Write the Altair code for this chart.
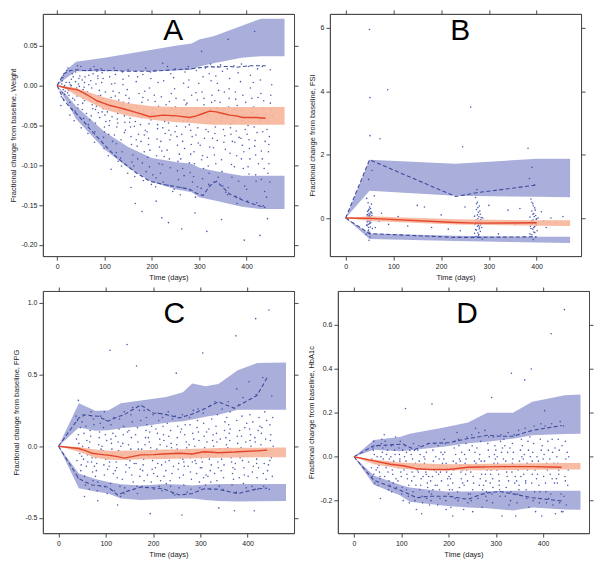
import altair as alt
import pandas as pd

FONT = "Liberation Sans"
BLUE_BAND = "#aaaedb"
RED_BAND = "#f7b49a"
RED_LINE = "#e4452a"
DASH = "#3c4b9b"
DOT = "#3a4aa6"
FRAME = "#4a4a4a"

X_TICKS = [0, 100, 200, 300, 400]

# typed deviations (days) of actual observation time from the nominal visit day
OBS_SPREAD = [-3, 2, -1, 4, 0, -4, 3, -2, 1, -5, 5, -6, 6, -1, 2, -3]

# ---------------- Panel A : Weight ----------------
A_band_day = [0, 20, 40, 100, 150, 200, 250, 284, 300, 330, 390, 430, 480]
A_up_lo = [0, 0.010, 0.018, 0.018, 0.018, 0.018, 0.019, 0.020, 0.024, 0.028, 0.035, 0.037, 0.037]
A_up_hi = [0, 0.020, 0.030, 0.035, 0.040, 0.045, 0.050, 0.053, 0.058, 0.062, 0.075, 0.084, 0.084]
A_lo_hi = [0, -0.012, -0.026, -0.058, -0.077, -0.091, -0.096, -0.098, -0.103, -0.107, -0.113, -0.113, -0.113]
A_lo_lo = [0, -0.020, -0.042, -0.080, -0.103, -0.121, -0.130, -0.134, -0.140, -0.144, -0.152, -0.155, -0.155]
A_md_hi = [0, -0.001, -0.003, -0.015, -0.022, -0.026, -0.027, -0.027, -0.027, -0.027, -0.027, -0.027, -0.027]
A_md_lo = [0, -0.005, -0.012, -0.030, -0.038, -0.043, -0.046, -0.047, -0.048, -0.049, -0.049, -0.049, -0.049]

A_line_day = [0, 14, 28, 42, 56, 70, 84, 98, 112, 126, 140, 168, 196, 224, 252, 280, 294,
              308, 322, 336, 350, 364, 378, 392, 406, 420, 440]
A_p95 = [0, 0.015, 0.019, 0.020, 0.019, 0.019, 0.020, 0.019, 0.019, 0.019, 0.018, 0.018, 0.018,
         0.019, 0.020, 0.021, 0.022, 0.023, 0.024, 0.023, 0.024, 0.024, 0.023, 0.024, 0.025, 0.025, 0.025]
A_p05 = [0, -0.018, -0.028, -0.036, -0.045, -0.055, -0.064, -0.073, -0.082, -0.090, -0.097, -0.110,
         -0.120, -0.124, -0.127, -0.130, -0.135, -0.138, -0.126, -0.120, -0.128, -0.136, -0.140,
         -0.144, -0.147, -0.150, -0.153]
A_med = [0, -0.002, -0.004, -0.005, -0.009, -0.014, -0.019, -0.022, -0.025, -0.027, -0.029, -0.034,
         -0.039, -0.037, -0.038, -0.040, -0.038, -0.035, -0.032, -0.033, -0.035, -0.037, -0.038,
         -0.040, -0.040, -0.040, -0.041]

A_visit = [14, 28, 42, 56, 70, 84, 98, 112, 126, 140, 154, 168, 182, 196, 210, 224, 238, 252,
           266, 280, 294, 308, 322, 336, 350, 364, 378, 392, 406, 420, 434, 448]
A_obs = [
    [0.006, -0.011, 0.013, -0.003, -0.018, 0.002, -0.007, 0.010, -0.001, -0.014, 0.004, -0.025, 0.019, -0.005, 0.000, -0.009],
    [-0.012, 0.008, -0.021, 0.015, 0.001, -0.006, -0.029, 0.004, -0.002, 0.022, -0.016, -0.009, 0.011, -0.037, 0.000, -0.004],
    [0.017, -0.024, -0.003, 0.009, -0.013, -0.032, 0.002, -0.008, 0.025, -0.018, -0.001, -0.044, 0.012, -0.006, -0.028, 0.005],
    [-0.030, 0.004, -0.016, 0.019, -0.041, -0.008, 0.011, -0.022, -0.002, -0.053, -0.012, 0.024, -0.035, -0.005, -0.019, 0.007],
    [0.013, -0.038, -0.011, -0.024, 0.021, -0.049, -0.003, -0.017, 0.006, -0.060, -0.029, -0.008, 0.015, -0.043, -0.020, 0.001],
    [-0.047, 0.009, -0.026, -0.013, 0.018, -0.058, -0.034, 0.002, -0.019, -0.071, -0.006, 0.024, -0.040, -0.022, 0.012, -0.030],
    [0.016, -0.052, -0.029, -0.008, -0.065, 0.004, -0.037, -0.017, -0.079, 0.021, -0.045, -0.012, -0.025, 0.009, -0.058, -0.033],
    [-0.061, -0.015, 0.011, -0.039, -0.026, -0.088, 0.002, -0.050, -0.020, 0.019, -0.070, -0.033, -0.007, -0.044, -0.105, -0.029],
    [0.014, -0.035, -0.073, -0.018, -0.052, 0.003, -0.095, -0.026, -0.042, -0.062, -0.009, 0.022, -0.031, -0.084, -0.047, -0.013],
    [-0.083, -0.038, 0.008, -0.056, -0.021, -0.101, -0.046, 0.017, -0.030, -0.068, -0.012, -0.091, -0.035, 0.001, -0.059, -0.025],
    [0.012, -0.064, -0.028, -0.096, -0.041, 0.020, -0.074, -0.016, -0.052, -0.110, -0.034, -0.005, -0.087, -0.046, -0.128, -0.022],
    [-0.045, -0.092, 0.005, -0.061, -0.027, -0.114, -0.038, 0.018, -0.076, -0.051, -0.010, -0.101, -0.033, -0.068, 0.011, -0.148],
    [-0.021, -0.083, 0.014, -0.056, -0.119, -0.040, -0.007, -0.097, -0.031, -0.070, 0.022, -0.049, -0.108, -0.015, -0.062, -0.158],
    [-0.066, 0.009, -0.102, -0.036, -0.081, -0.018, -0.124, -0.048, 0.017, -0.090, -0.029, -0.058, -0.112, -0.003, -0.043, -0.074],
    [0.019, -0.054, -0.116, -0.026, -0.088, -0.041, 0.004, -0.127, -0.067, -0.012, -0.098, -0.034, -0.077, -0.145, -0.049, -0.020],
    [-0.082, -0.031, 0.028, -0.060, -0.121, -0.014, -0.045, -0.099, 0.006, -0.070, -0.038, -0.110, -0.024, -0.053, -0.089, -0.166],
    [-0.047, 0.015, -0.092, -0.029, -0.068, -0.125, -0.010, -0.056, -0.103, 0.024, -0.039, -0.081, -0.133, -0.020, -0.062, -0.172],
    [0.021, -0.075, -0.036, -0.118, -0.051, -0.004, -0.095, -0.027, -0.064, -0.130, -0.042, 0.010, -0.086, -0.016, -0.107, -0.058],
    [-0.061, -0.018, -0.104, 0.017, -0.044, -0.128, -0.079, -0.031, 0.003, -0.092, -0.052, -0.137, -0.024, -0.070, -0.113, -0.180],
    [0.024, -0.056, -0.097, -0.012, -0.131, -0.043, -0.074, 0.007, -0.109, -0.035, -0.064, -0.022, -0.121, -0.049, -0.086, -0.002],
    [-0.041, -0.127, -0.009, -0.072, 0.019, -0.098, -0.053, -0.140, -0.028, -0.083, 0.003, -0.114, -0.036, -0.062, -0.018, -0.160],
    [0.043, -0.024, -0.088, -0.047, 0.011, -0.129, -0.066, -0.008, -0.104, -0.036, 0.022, -0.075, -0.055, -0.117, -0.016, -0.093],
    [-0.058, 0.027, -0.110, -0.021, -0.077, -0.037, 0.006, -0.124, -0.046, -0.090, -0.012, -0.183, -0.066, 0.015, -0.030, -0.101],
    [-0.019, -0.069, 0.012, -0.115, -0.041, -0.087, 0.024, -0.052, -0.028, -0.121, -0.006, -0.078, -0.036, -0.098, 0.003, -0.060],
    [-0.093, -0.030, 0.018, -0.063, -0.126, -0.044, -0.008, -0.108, -0.055, 0.026, -0.080, -0.021, -0.134, -0.039, -0.071, -0.168],
    [0.058, -0.048, -0.016, -0.099, 0.009, -0.137, -0.061, -0.027, -0.085, 0.021, -0.115, -0.040, -0.070, -0.004, -0.053, -0.128],
    [-0.071, -0.025, -0.139, 0.016, -0.057, -0.102, -0.038, -0.008, -0.088, 0.025, -0.120, -0.046, -0.065, -0.017, -0.148, -0.030],
    [0.027, -0.083, -0.044, -0.126, -0.012, -0.066, -0.194, -0.031, -0.104, 0.005, -0.055, -0.141, -0.021, -0.075, -0.037, -0.092],
    [-0.050, 0.013, -0.111, -0.028, -0.079, -0.145, -0.040, 0.024, -0.092, -0.061, -0.016, -0.130, -0.034, -0.068, -0.003, -0.102],
    [0.068, -0.036, -0.087, -0.015, -0.120, -0.052, 0.021, -0.069, -0.147, -0.027, -0.098, 0.004, -0.044, -0.112, -0.059, -0.076],
    [-0.082, -0.029, 0.024, -0.133, -0.058, -0.010, -0.104, -0.043, -0.151, 0.007, -0.070, -0.188, -0.036, -0.092, -0.019, -0.118],
    [-0.046, 0.020, -0.098, -0.031, -0.064, -0.167, -0.012, -0.083, -0.121, -0.055, 0.001, -0.140, -0.038, -0.074, -0.022, -0.110],
]

# ---------------- Panel B : FSI ----------------
B_band_day = [0, 50, 230, 400, 470]
B_up_lo = [0, 0.86, 0.70, 0.67, 0.66]
B_up_hi = [0, 1.84, 1.71, 1.87, 1.87]
B_lo_hi = [0, -0.49, -0.56, -0.59, -0.59]
B_lo_lo = [0, -0.66, -0.72, -0.77, -0.79]
B_md_hi = [0, 0.06, -0.04, -0.07, -0.07]
B_md_lo = [0, -0.09, -0.20, -0.24, -0.25]

B_line_day = [0, 50, 230, 275, 400]
B_p95 = [0, 1.84, 0.68, 0.80, 1.04]
B_p05 = [0, -0.49, -0.61, -0.61, -0.59]
B_med = [0, -0.01, -0.14, -0.16, -0.15]

B_obs_day = [44, 47, 50, 52, 48, 46, 53, 49, 51, 45, 55, 50, 47, 52, 48, 54, 46, 50, 49, 53,
             51, 47, 45, 52, 56, 48, 50, 43, 51, 49,
             49, 52, 46, 50, 54, 48, 51, 45, 53, 47, 50, 55, 44, 52, 49,
             272, 276, 280, 274, 278, 282, 270, 284, 277, 273, 279, 281, 275, 283, 271, 278,
             276, 285, 280, 274, 282, 277, 279, 273, 286, 275,
             275, 281, 272, 279, 284, 277, 270, 283, 276, 280, 273, 287, 278, 274, 282,
             388, 392, 396, 390, 394, 398, 386, 400, 393, 389, 395, 397, 391, 399, 387, 394,
             392, 401, 396, 390, 398, 393, 395,
             391, 397, 388, 395, 400, 393, 386, 399, 392, 396, 389, 403, 394, 390, 398,
             50, 51, 88, 51, 72, 262, 245, 382, 390, 385, 48, 55, 70, 75, 90, 110, 130, 150,
             165, 180, 200, 215, 240, 250, 300, 320, 340, 355, 365, 420, 430, 440, 455, 60,
             62, 410, 415]
B_obs_val = [0.62, 0.48, 0.35, 0.30, 0.25, 0.21, 0.18, 0.15, 0.12, 0.10, 0.08, 0.06, 0.04, 0.02,
             0.00, -0.02, -0.05, -0.08, -0.10, -0.13, -0.16, -0.20, -0.24, -0.28, -0.33, -0.38,
             -0.45, -0.52, -0.60, -0.70,
             0.28, -0.04, 0.11, -0.18, 0.44, -0.30, 0.05, -0.12, 0.20, -0.41, 0.00, 0.15, -0.22,
             -0.07, 0.09,
             0.65, 0.50, 0.38, 0.27, 0.18, 0.12, 0.06, 0.02, -0.02, -0.06, -0.09, -0.12, -0.15,
             -0.17, -0.20, -0.23, -0.26, -0.30, -0.34, -0.38, -0.42, -0.47, -0.52, -0.58, -0.66,
             0.90,
             -0.10, 0.22, -0.36, 0.04, -0.19, 0.33, -0.48, -0.05, 0.10, -0.28, -0.14, 0.00, -0.56,
             0.45, -0.22,
             0.60, 0.45, 0.32, 0.22, 0.14, 0.08, 0.03, -0.02, -0.06, -0.10, -0.13, -0.16, -0.19,
             -0.22, -0.26, -0.30, -0.35, -0.40, -0.46, -0.53, -0.60, -0.68, 1.05,
             -0.08, 0.25, -0.33, 0.05, -0.20, 0.38, -0.50, -0.04, 0.12, -0.27, -0.14, 0.00, -0.44,
             0.50, -0.18,
             5.95, 3.80, 4.05, 2.60, 2.50, 3.50, 2.25, 2.20, 1.60, 1.25, 1.22, 1.50, -0.10, 0.15,
             -0.20, 0.05, -0.25, 0.40, 0.35, -0.30, 0.10, -0.35, -0.40, 0.35, 0.40, -0.50, 0.25,
             -0.20, 0.30, -0.30, 0.00, -0.15, 0.05, 0.70, -0.30, 0.20, -0.10]

# ---------------- Panel C : FPG ----------------
C_band_day = [0, 43, 78, 105, 132, 174, 228, 263, 283, 311, 338, 379, 420, 481]
C_up_lo = [0, 0.13, 0.108, 0.112, 0.125, 0.137, 0.164, 0.175, 0.186, 0.205, 0.22, 0.254, 0.254, 0.254]
C_up_hi = [0, 0.30, 0.247, 0.250, 0.300, 0.320, 0.344, 0.377, 0.438, 0.418, 0.434, 0.530, 0.580, 0.584]
C_lo_hi = [0, -0.19, -0.229, -0.250, -0.265, -0.274, -0.263, -0.268, -0.274, -0.266, -0.263, -0.263, -0.263, -0.263]
C_lo_lo = [0, -0.292, -0.315, -0.330, -0.364, -0.375, -0.368, -0.365, -0.364, -0.375, -0.382, -0.386, -0.384, -0.382]
C_md_hi = [0, -0.005, -0.022, -0.031, -0.032, -0.027, -0.022, -0.020, -0.018, -0.015, -0.013, -0.011, -0.010, -0.009]
C_md_lo = [0, -0.038, -0.080, -0.094, -0.096, -0.090, -0.088, -0.086, -0.085, -0.082, -0.080, -0.078, -0.077, -0.076]

C_line_day = [0, 43, 57, 71, 84, 98, 105, 125, 139, 174, 200, 222, 256, 283, 304, 311, 338, 372,
              379, 420, 441]
C_p95 = [0, 0.198, 0.220, 0.212, 0.209, 0.185, 0.175, 0.205, 0.220, 0.288, 0.232, 0.225, 0.198,
         0.225, 0.254, 0.265, 0.310, 0.265, 0.280, 0.355, 0.478]
C_p05 = [0, -0.225, -0.250, -0.270, -0.274, -0.282, -0.285, -0.340, -0.320, -0.285, -0.290,
         -0.297, -0.340, -0.330, -0.300, -0.297, -0.300, -0.325, -0.330, -0.297, -0.292]
C_med = [0, -0.016, -0.030, -0.049, -0.055, -0.060, -0.062, -0.072, -0.083, -0.060, -0.058,
         -0.054, -0.049, -0.054, -0.040, -0.038, -0.045, -0.040, -0.038, -0.032, -0.027]

C_visit = [43, 56, 70, 84, 98, 112, 126, 140, 154, 168, 182, 196, 210, 224, 238, 252, 266, 280,
           294, 308, 322, 336, 350, 364, 378, 392, 406, 420, 434, 448]
C_obs = [
    [0.18, -0.05, 0.08, -0.17, 0.02, -0.10, 0.13, -0.22, -0.02, 0.05, -0.13, 0.21, -0.07, 0.32],
    [-0.09, 0.14, -0.21, 0.04, -0.03, 0.22, -0.14, 0.09, -0.27, 0.00, -0.06, 0.17, -0.11, -0.35],
    [0.11, -0.18, -0.04, 0.19, -0.11, 0.03, -0.24, 0.07, -0.08, -0.30, 0.15, -0.01, -0.14, 0.24],
    [-0.12, 0.06, -0.25, 0.16, -0.05, -0.17, 0.10, -0.31, 0.01, -0.08, 0.21, -0.21, -0.02, -0.38],
    [0.13, -0.09, -0.20, 0.04, -0.28, -0.03, 0.18, -0.13, 0.08, -0.06, -0.33, 0.00, -0.16, 0.24],
    [0.67, -0.05, 0.15, -0.19, 0.02, -0.11, 0.09, -0.26, -0.02, -0.14, 0.20, -0.08, -0.31, 0.05],
    [-0.15, 0.12, -0.07, -0.28, 0.03, -0.11, 0.19, -0.22, -0.03, 0.07, -0.35, -0.17, 0.00, -0.41],
    [0.08, -0.18, 0.24, -0.09, -0.29, 0.02, -0.13, 0.14, -0.04, -0.23, 0.71, -0.06, 0.10, -0.33],
    [-0.10, 0.17, -0.02, -0.25, 0.06, -0.15, 0.27, -0.06, -0.20, 0.11, -0.30, 0.01, -0.12, 0.22],
    [0.56, -0.07, 0.13, -0.21, 0.03, -0.12, 0.25, -0.28, -0.02, 0.08, -0.16, -0.04, 0.18, -0.33],
    [-0.13, 0.06, -0.24, 0.20, -0.05, -0.17, 0.11, -0.09, 0.01, -0.28, 0.15, -0.02, -0.20, 0.25],
    [0.10, -0.16, -0.04, 0.22, -0.25, 0.03, -0.10, -0.47, 0.14, -0.07, -0.19, 0.06, -0.30, -0.01],
    [-0.08, 0.18, -0.21, 0.05, -0.12, 0.12, -0.28, -0.02, 0.23, -0.15, 0.01, -0.06, -0.24, 0.09],
    [0.14, -0.11, 0.04, -0.26, -0.03, 0.20, -0.17, 0.08, -0.07, -0.31, 0.00, -0.13, 0.16, -0.21],
    [-0.05, -0.19, 0.11, -0.33, 0.02, -0.10, 0.19, -0.24, -0.01, 0.07, -0.14, 0.24, -0.07, -0.28],
    [0.51, -0.12, 0.06, -0.22, 0.14, -0.04, -0.29, 0.01, -0.16, 0.21, -0.08, -0.34, 0.10, -0.02],
    [-0.09, 0.15, -0.27, 0.03, -0.14, 0.22, -0.05, -0.20, 0.08, -0.48, -0.01, 0.12, -0.32, -0.11],
    [0.20, -0.06, -0.18, 0.09, -0.30, 0.01, -0.11, 0.15, -0.23, -0.03, 0.25, -0.14, 0.05, -0.08],
    [-0.12, 0.10, -0.03, -0.25, 0.18, -0.07, 0.04, -0.19, 0.26, -0.10, -0.29, 0.00, -0.15, 0.13],
    [0.65, -0.05, 0.16, -0.20, 0.07, -0.11, -0.27, 0.23, -0.01, -0.15, 0.10, -0.08, 0.03, -0.22],
    [-0.09, 0.19, -0.17, 0.04, -0.25, 0.12, -0.03, 0.28, -0.13, -0.06, 0.08, -0.21, 0.00, -0.30],
    [0.14, -0.15, 0.03, -0.28, 0.22, -0.07, -0.43, 0.09, -0.11, 0.31, -0.02, -0.19, 0.05, -0.24],
    [-0.06, 0.17, -0.22, 0.06, -0.13, 0.26, -0.02, -0.30, 0.11, -0.09, 0.01, -0.17, 0.20, -0.04],
    [0.09, -0.11, 0.24, -0.19, -0.03, 0.15, -0.27, 0.04, -0.08, 0.31, -0.15, -0.01, -0.23, 0.12],
    [0.77, -0.05, 0.18, -0.22, 0.07, -0.12, 0.29, -0.32, 0.02, -0.16, 0.11, -0.45, -0.08, 0.40],
    [-0.10, 0.13, -0.26, 0.03, -0.15, 0.21, -0.04, 0.34, -0.20, 0.07, -0.29, -0.01, 0.16, -0.07],
    [0.45, -0.03, 0.22, -0.18, 0.08, -0.11, -0.28, 0.12, 0.00, -0.21, 0.17, -0.07, -0.14, 0.04],
    [0.89, 0.11, -0.09, 0.20, -0.22, 0.03, -0.15, 0.36, -0.30, 0.06, -0.04, -0.45, 0.14, -0.12],
    [-0.07, 0.24, -0.19, 0.05, -0.28, 0.13, -0.02, 0.48, -0.12, 0.09, -0.23, 0.01, 0.18, -0.05],
    [0.95, -0.08, 0.15, -0.21, 0.04, -0.13, 0.35, -0.30, 0.08, -0.03, 0.20, -0.17, 0.00, -0.10],
]

# ---------------- Panel D : HbA1c ----------------
D_band_day = [0, 42, 97, 118, 193, 241, 282, 336, 377, 446, 479]
D_up_lo = [0, 0.032, 0.025, 0.029, 0.047, 0.061, 0.068, 0.082, 0.098, 0.104, 0.105]
D_up_hi = [0, 0.076, 0.090, 0.105, 0.134, 0.156, 0.200, 0.200, 0.251, 0.280, 0.283]
D_lo_hi = [0, -0.085, -0.128, -0.140, -0.158, -0.158, -0.157, -0.155, -0.155, -0.155, -0.155]
D_lo_lo = [0, -0.128, -0.175, -0.205, -0.223, -0.231, -0.235, -0.245, -0.231, -0.240, -0.242]
D_md_hi = [0, -0.012, -0.026, -0.029, -0.034, -0.033, -0.032, -0.031, -0.030, -0.029, -0.029]
D_md_lo = [0, -0.034, -0.053, -0.058, -0.063, -0.062, -0.061, -0.060, -0.059, -0.058, -0.058]

D_line_day = [0, 42, 77, 104, 128, 131, 159, 200, 241, 268, 282, 309, 336, 377, 439]
D_p95 = [0, 0.050, 0.054, 0.058, 0.032, 0.035, 0.061, 0.064, 0.083, 0.092, 0.098, 0.093, 0.093,
         0.120, 0.142]
D_p05 = [0, -0.107, -0.136, -0.158, -0.182, -0.187, -0.180, -0.180, -0.194, -0.172, -0.165,
         -0.158, -0.169, -0.187, -0.201]
D_med = [0, -0.019, -0.034, -0.041, -0.052, -0.055, -0.058, -0.058, -0.048, -0.047, -0.046,
         -0.045, -0.045, -0.045, -0.048]

D_visit = [43, 56, 70, 84, 98, 112, 126, 140, 154, 168, 182, 196, 210, 224, 238, 252, 266, 280,
           294, 308, 322, 336, 350, 364, 378, 392, 406, 420, 434, 448]
D_obs = [
    [0.04, -0.02, 0.07, -0.06, 0.01, -0.09, -0.03, 0.03, -0.12, -0.01, 0.05, -0.05, 0.00, -0.08],
    [-0.04, 0.06, -0.10, 0.02, -0.19, -0.02, 0.08, -0.07, 0.00, -0.13, 0.04, -0.05, -0.01, -0.09],
    [0.05, -0.07, 0.01, -0.11, -0.03, 0.07, -0.15, -0.05, 0.03, -0.09, -0.01, 0.10, -0.13, -0.04],
    [-0.06, 0.03, -0.12, 0.09, -0.02, -0.16, 0.01, -0.08, -0.04, 0.05, -0.10, 0.00, -0.14, -0.03],
    [0.04, -0.09, -0.02, -0.14, 0.07, -0.05, -0.17, 0.01, -0.07, -0.11, 0.03, -0.04, -0.20, -0.01],
    [0.22, -0.05, 0.02, -0.13, -0.08, 0.05, -0.18, -0.02, -0.10, 0.00, -0.21, -0.06, 0.03, -0.15],
    [-0.07, 0.03, -0.16, -0.03, 0.06, -0.11, -0.20, -0.01, -0.09, 0.01, -0.13, -0.05, -0.24, -0.04],
    [0.05, -0.10, -0.04, -0.18, 0.01, -0.07, -0.26, -0.02, -0.13, 0.03, -0.21, -0.06, -0.09, -0.15],
    [-0.05, -0.14, 0.02, -0.09, -0.19, -0.01, 0.06, -0.07, -0.12, -0.03, -0.16, 0.00, -0.22, -0.08],
    [0.24, -0.06, 0.03, -0.13, -0.02, -0.17, 0.06, -0.09, -0.04, -0.20, 0.00, -0.11, -0.07, -0.15],
    [-0.08, 0.02, -0.15, -0.04, -0.19, 0.05, -0.11, -0.01, -0.07, -0.22, -0.03, -0.13, 0.01, -0.05],
    [0.06, -0.10, -0.03, -0.17, -0.07, 0.02, -0.13, -0.20, -0.05, 0.08, -0.09, -0.01, -0.15, -0.24],
    [-0.05, 0.04, -0.12, -0.19, -0.02, -0.08, 0.07, -0.15, -0.06, -0.23, 0.01, -0.10, -0.03, -0.27],
    [0.08, -0.07, -0.14, 0.02, -0.04, -0.20, -0.10, 0.05, -0.02, -0.16, -0.06, 0.11, -0.12, -0.01],
    [-0.03, -0.11, 0.06, -0.17, -0.06, 0.01, -0.21, -0.08, 0.09, -0.13, -0.04, -0.24, 0.03, -0.01],
    [0.10, -0.05, -0.15, 0.02, -0.09, -0.20, -0.02, 0.05, -0.12, -0.07, 0.13, -0.17, -0.03, -0.25],
    [-0.04, 0.07, -0.13, -0.08, 0.01, -0.19, -0.02, 0.11, -0.10, -0.05, -0.23, 0.04, -0.15, -0.01],
    [0.12, -0.06, -0.11, 0.03, -0.16, -0.02, 0.06, -0.08, -0.20, -0.04, 0.09, -0.13, 0.00, -0.18],
    [0.27, -0.03, -0.10, 0.05, -0.14, -0.06, 0.01, -0.17, 0.09, -0.08, -0.01, -0.12, 0.03, -0.21],
    [-0.05, 0.07, -0.11, 0.02, -0.15, -0.03, 0.10, -0.08, -0.18, 0.00, -0.27, -0.06, 0.04, -0.13],
    [0.05, -0.09, -0.02, 0.11, -0.14, -0.05, 0.02, -0.18, -0.07, 0.08, -0.11, -0.01, -0.22, -0.04],
    [0.38, -0.04, 0.06, -0.12, -0.01, -0.16, 0.10, -0.07, 0.02, -0.20, -0.09, 0.04, -0.27, -0.03],
    [-0.06, 0.03, -0.13, 0.08, -0.02, -0.17, -0.09, 0.12, -0.04, -0.21, 0.00, -0.11, 0.05, -0.15],
    [0.35, -0.03, -0.11, 0.07, -0.15, 0.01, -0.06, 0.13, -0.19, -0.08, 0.03, -0.01, -0.23, -0.12],
    [0.40, 0.06, -0.08, -0.16, 0.02, -0.04, 0.14, -0.12, -0.20, 0.00, -0.06, 0.09, -0.25, -0.02],
    [-0.05, 0.08, -0.13, 0.03, -0.21, -0.08, 0.15, -0.02, -0.16, 0.00, -0.27, -0.10, 0.05, -0.04],
    [0.21, -0.03, -0.12, 0.07, -0.16, 0.01, -0.06, 0.14, -0.21, -0.09, 0.03, -0.01, -0.19, -0.05],
    [0.56, -0.05, 0.08, -0.12, 0.02, -0.17, -0.03, 0.15, -0.22, -0.08, 0.04, -0.01, -0.26, -0.10],
    [-0.03, 0.16, -0.08, -0.17, 0.03, -0.12, -0.05, 0.08, -0.21, 0.00, -0.25, -0.10, 0.05, -0.06],
    [0.67, -0.04, 0.07, -0.13, -0.01, -0.18, 0.02, -0.09, -0.22, 0.14, -0.06, -0.25, 0.00, -0.11],
]

W, H = 252, 243
HYPHEN_MINUS = "replace(datum.label, '\u2212', '-')"


def visits_to_points(visits, obs):
    days, vals = [], []
    for d, ys in zip(visits, obs):
        for k, v in enumerate(ys):
            days.append(d + OBS_SPREAD[k])
            vals.append(v)
    return days, vals


def make_panel(letter, letter_pos, ytitle, xdom, ydom, yticks, yfmt,
               band_day, up_lo, up_hi, lo_lo, lo_hi, md_lo, md_hi,
               line_day, p95, p05, med, obs_day, obs_val):
    xs = alt.Scale(domain=xdom, nice=False, zero=False)
    ys = alt.Scale(domain=ydom, nice=False, zero=False)
    ax_b = alt.Axis(orient="bottom", values=X_TICKS, format="d", title="Time (days)")
    ax_l = alt.Axis(orient="left", values=yticks, format=yfmt, title=ytitle,
                    labelExpr=HYPHEN_MINUS)
    ax_t = alt.Axis(orient="top", values=X_TICKS, labels=False, title="")
    ax_r = alt.Axis(orient="right", values=yticks, labels=False, title="")

    bdf = pd.DataFrame(dict(day=band_day, ulo=up_lo, uhi=up_hi, llo=lo_lo, lhi=lo_hi,
                            mlo=md_lo, mhi=md_hi))
    ldf = pd.DataFrame(dict(day=line_day, p95=p95, p05=p05, med=med))
    pdf = pd.DataFrame(dict(day=obs_day, val=obs_val))
    tdf = pd.DataFrame(dict(day=[letter_pos[0]], val=[letter_pos[1]], txt=[letter]))

    up = alt.Chart(bdf).mark_area(color=BLUE_BAND, opacity=1, clip=True).encode(
        x=alt.X("day:Q", scale=xs, axis=ax_b),
        y=alt.Y("ulo:Q", scale=ys, axis=ax_l), y2="uhi:Q")
    lo = alt.Chart(bdf).mark_area(color=BLUE_BAND, opacity=1, clip=True).encode(
        x=alt.X("day:Q", scale=xs, axis=None),
        y=alt.Y("llo:Q", scale=ys, axis=None), y2="lhi:Q")
    pts = alt.Chart(pdf).mark_circle(color=DOT, size=2.5, opacity=0.9, clip=True).encode(
        x=alt.X("day:Q", scale=xs, axis=ax_t),
        y=alt.Y("val:Q", scale=ys, axis=ax_r))
    md = alt.Chart(bdf).mark_area(color=RED_BAND, opacity=0.9, clip=True).encode(
        x=alt.X("day:Q", scale=xs, axis=None),
        y=alt.Y("mlo:Q", scale=ys, axis=None), y2="mhi:Q")
    l95 = alt.Chart(ldf).mark_line(color=DASH, strokeWidth=1.1, strokeDash=[4, 2.5], clip=True).encode(
        x=alt.X("day:Q", scale=xs, axis=None), y=alt.Y("p95:Q", scale=ys, axis=None))
    l05 = alt.Chart(ldf).mark_line(color=DASH, strokeWidth=1.1, strokeDash=[4, 2.5], clip=True).encode(
        x=alt.X("day:Q", scale=xs, axis=None), y=alt.Y("p05:Q", scale=ys, axis=None))
    lmed = alt.Chart(ldf).mark_line(color=RED_LINE, strokeWidth=1.4, clip=True).encode(
        x=alt.X("day:Q", scale=xs, axis=None), y=alt.Y("med:Q", scale=ys, axis=None))
    txt = alt.Chart(tdf).mark_text(font=FONT, fontSize=30, color="#000000", align="center",
                                   baseline="alphabetic").encode(
        x=alt.X("day:Q", scale=xs, axis=None), y=alt.Y("val:Q", scale=ys, axis=None),
        text="txt:N")
    return alt.layer(up, lo, pts, md, l95, l05, lmed, txt).resolve_axis(
        x="independent", y="independent").properties(width=W, height=H)


A_px, A_py = visits_to_points(A_visit, A_obs)
C_px, C_py = visits_to_points(C_visit, C_obs)
D_px, D_py = visits_to_points(D_visit, D_obs)

pA = make_panel("A", (245, 0.057), "Fractional change from baseline, Weight", [-30, 500],
                [-0.214, 0.090], [-0.20, -0.15, -0.10, -0.05, 0.0, 0.05], ".2f",
                A_band_day, A_up_lo, A_up_hi, A_lo_lo, A_lo_hi, A_md_lo, A_md_hi,
                A_line_day, A_p95, A_p05, A_med, A_px, A_py)
pB = make_panel("B", (240, 5.63), "Fractional change from baseline, FSI", [-33, 493],
                [-1.2, 6.44], [0, 2, 4, 6], "d",
                B_band_day, B_up_lo, B_up_hi, B_lo_lo, B_lo_hi, B_md_lo, B_md_hi,
                B_line_day, B_p95, B_p05, B_med, B_obs_day, B_obs_val)
pC = make_panel("C", (245, 0.862), "Fractional change from baseline, FPG", [-33, 498],
                [-0.606, 1.083], [-0.5, 0.0, 0.5, 1.0], ".1f",
                C_band_day, C_up_lo, C_up_hi, C_lo_lo, C_lo_hi, C_md_lo, C_md_hi,
                C_line_day, C_p95, C_p05, C_med, C_px, C_py)
pD = make_panel("D", (239, 0.61), "Fractional change from baseline, HbA1c", [-34, 497],
                [-0.348, 0.755], [-0.2, 0.0, 0.2, 0.4, 0.6], ".1f",
                D_band_day, D_up_lo, D_up_hi, D_lo_lo, D_lo_hi, D_md_lo, D_md_hi,
                D_line_day, D_p95, D_p05, D_med, D_px, D_py)

chart = alt.vconcat(
    alt.hconcat(pA, pB, spacing=8),
    alt.hconcat(pC, pD, spacing=8),
    spacing=5,
).properties(
    padding={"left": 0, "top": 0, "right": 0, "bottom": 0}
).configure_view(
    stroke=FRAME, strokeWidth=1
).configure_axis(
    labelFont=FONT, labelFontSize=7, labelColor="#222222",
    titleFont=FONT, titleFontSize=7.5, titleFontWeight="normal", titleColor="#222222",
    tickSize=4, tickColor=FRAME, domainColor=FRAME, grid=False,
    labelPadding=2, titlePadding=4
)

chart.save("out.html", embed_options={"renderer": "svg", "actions": False})
